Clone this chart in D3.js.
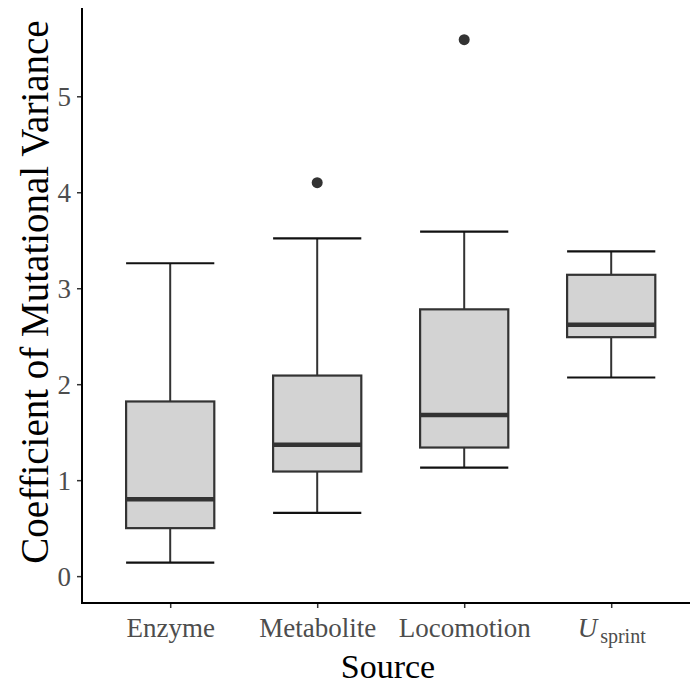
<!DOCTYPE html>
<html>
<head>
<meta charset="utf-8">
<script src="https://cdn.jsdelivr.net/npm/d3@7"></script>
<style>
  body { margin: 0; background: #fff; }
  svg text { font-family: "Liberation Serif", "Times New Roman", serif; }
</style>
</head>
<body>
<div id="chart"></div>
<script>
(function() {
	var width = 690,
		height = 688;

	// categories and box statistics
	var sources = ["Enzyme", "Metabolite", "Locomotion", "Usprint"];
	var whiskerLow = [0.14, 0.66, 1.13, 2.07];
	var q1 = [0.50, 1.09, 1.34, 2.49];
	var median = [0.80, 1.37, 1.68, 2.62];
	var q3 = [1.82, 2.09, 2.78, 3.14];
	var whiskerHigh = [3.26, 3.52, 3.59, 3.385];
	var outliers = [[], [4.10], [5.59], []];
	var yTicks = [0, 1, 2, 3, 4, 5];

	var left = 82, bottom = 603, top = 8;

	var boxes = sources.map(function(s, i) {
		return {
			source: s,
			lo: whiskerLow[i], q1: q1[i], med: median[i], q3: q3[i], hi: whiskerHigh[i],
			out: outliers[i]
		};
	});

	var svg = d3.select("#chart")
		.append("svg")
		.attr("width", width)
		.attr("height", height);

	var x = d3.scalePoint()
		.domain(sources)
		.range([left, 699.4])
		.padding(0.6);

	var y = d3.scaleLinear()
		.domain([-0.28, 5.92])
		.range([bottom, top]);

	var boxW = x.step() * 0.6;

	// whiskers
	var g = svg.append("g");
	g.selectAll(".whisker")
		.data(boxes)
		.enter().append("line")
		.attr("class", "whisker")
		.attr("x1", function(d) { return x(d.source); })
		.attr("x2", function(d) { return x(d.source); })
		.attr("y1", function(d) { return y(d.lo); })
		.attr("y2", function(d) { return y(d.hi); })
		.attr("stroke", "#333")
		.attr("stroke-width", 2);

	// error bar caps
	["lo", "hi"].forEach(function(k) {
		g.selectAll(".cap-" + k)
			.data(boxes)
			.enter().append("line")
			.attr("x1", function(d) { return x(d.source) - boxW / 2; })
			.attr("x2", function(d) { return x(d.source) + boxW / 2; })
			.attr("y1", function(d) { return y(d[k]); })
			.attr("y2", function(d) { return y(d[k]); })
			.attr("stroke", "#111")
			.attr("stroke-width", 2.2);
	});

	// boxes
	g.selectAll(".box")
		.data(boxes)
		.enter().append("rect")
		.attr("class", "box")
		.attr("x", function(d) { return x(d.source) - boxW / 2; })
		.attr("width", boxW)
		.attr("y", function(d) { return y(d.q3); })
		.attr("height", function(d) { return y(d.q1) - y(d.q3); })
		.attr("fill", "#d3d3d3")
		.attr("stroke", "#333")
		.attr("stroke-width", 2.2);

	// medians
	g.selectAll(".median")
		.data(boxes)
		.enter().append("line")
		.attr("x1", function(d) { return x(d.source) - boxW / 2; })
		.attr("x2", function(d) { return x(d.source) + boxW / 2; })
		.attr("y1", function(d) { return y(d.med); })
		.attr("y2", function(d) { return y(d.med); })
		.attr("stroke", "#333")
		.attr("stroke-width", 4.5);

	// outliers
	boxes.forEach(function(b) {
		g.selectAll(null)
			.data(b.out)
			.enter().append("circle")
			.attr("cx", x(b.source))
			.attr("cy", function(v) { return y(v); })
			.attr("r", 5.5)
			.attr("fill", "#333");
	});

	// axes
	var yAxis = svg.append("g")
		.attr("transform", "translate(" + left + ",0)")
		.call(d3.axisLeft(y).tickValues(yTicks).tickFormat(d3.format("d")).tickSize(5).tickPadding(6));
	var xAxis = svg.append("g")
		.attr("transform", "translate(0," + bottom + ")")
		.call(d3.axisBottom(x).tickSize(5).tickPadding(10));

	[yAxis, xAxis].forEach(function(a) {
		a.select(".domain").remove();
		a.selectAll(".tick line").attr("stroke", "#333").attr("stroke-width", 1.5);
		a.selectAll(".tick text")
			.attr("fill", "#4d4d4d")
			.style("font-size", "27px");
	});
	yAxis.selectAll(".tick text").attr("dy", "0.35em");

	// x label for Usprint: italic U with subscript
	xAxis.selectAll(".tick text")
		.filter(function(d) { return d === "Usprint"; })
		.text(null)
		.call(function(t) {
			t.append("tspan").style("font-style", "italic").text("U");
			t.append("tspan").attr("dy", "6").style("font-size", "20px").attr("dx", "3").text("sprint");
		});

	// axis lines
	svg.append("line")
		.attr("x1", left).attr("x2", left)
		.attr("y1", top).attr("y2", bottom + 1)
		.attr("stroke", "#000").attr("stroke-width", 2);
	svg.append("line")
		.attr("x1", left - 1).attr("x2", width)
		.attr("y1", bottom).attr("y2", bottom)
		.attr("stroke", "#000").attr("stroke-width", 2);

	// titles
	svg.append("text")
		.attr("x", 388)
		.attr("y", 678)
		.attr("text-anchor", "middle")
		.style("font-size", "34px")
		.attr("fill", "#000")
		.text("Source");

	svg.append("text")
		.attr("transform", "translate(48,292) rotate(-90)")
		.attr("text-anchor", "middle")
		.style("font-size", "39px")
		.attr("fill", "#000")
		.text("Coefficient of Mutational Variance");
})();
</script>
</body>
</html>
